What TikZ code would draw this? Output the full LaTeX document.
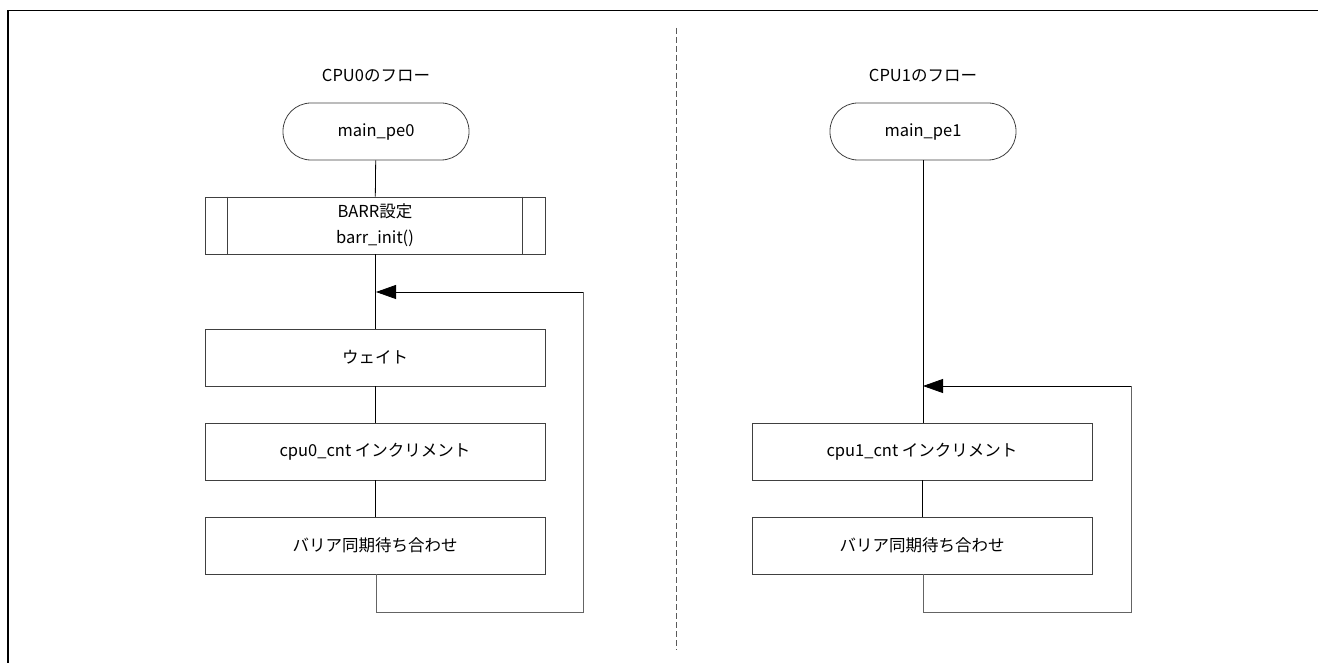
\documentclass[tikz,border=0pt]{standalone}
\usepackage{fontspec}
\setmainfont{Noto Sans CJK JP}
\usetikzlibrary{arrows.meta, positioning}
\definecolor{boxline}{RGB}{64, 64, 64}
\definecolor{loopline}{RGB}{100, 100, 100}
\definecolor{divline}{RGB}{90, 90, 90}

\begin{document}
\begin{tikzpicture}[
    x=1pt, y=-1pt,
    font=\fontsize{16.5}{26}\selectfont,
    terminal/.style={rectangle, draw=boxline, rounded corners=28pt, minimum width=186pt, minimum height=57pt, align=center, line width=0.8pt},
    procbox/.style={rectangle, draw=boxline, minimum width=340pt, minimum height=57pt, align=center, line width=0.8pt},
    flow/.style={draw=black, line width=0.8pt},
    loopflow/.style={draw=loopline, line width=1pt},
    arrow/.style={-{Triangle[length=20pt, width=14pt]}, line width=0.8pt, color=black},
    title/.style={font=\fontsize{16.5}{20}\selectfont}
]
\useasboundingbox (0,0) rectangle (1318,663);

% outer frame and divider
\draw[line width=1.8pt] (8,663) -- (8,10.5) -- (1318,10.5);
\draw[divline, dashed, dash pattern=on 6pt off 3pt, line width=0.8pt] (676,28) -- (676,650);

% CPU0 flow
\node[title] (title0) at (376,76) {CPU0のフロー};
\node[terminal] (start0) at (376,131.5) {main\_pe0};
\node[procbox, inner sep=1pt] (barr) at (375,225.5) {BARR設定\\barr\_init()};
\draw[boxline, line width=0.8pt] ([xshift=23pt]barr.north west) -- ([xshift=23pt]barr.south west);
\draw[boxline, line width=0.8pt] ([xshift=-23pt]barr.north east) -- ([xshift=-23pt]barr.south east);
\node[procbox] (wait0) at (375,357.5) {ウェイト};
\node[procbox] (inc0) at (375,451.5) {cpu0\_cnt インクリメント};
\node[procbox] (sync0) at (375,545.5) {バリア同期待ち合わせ};

\coordinate (join0) at (376,292);
\coordinate (loop0) at (583,292);
\coordinate (bot0) at (583,612);

\draw[flow] (start0) -- (barr);
\draw[flow] (barr) -- (wait0);
\draw[flow] (wait0) -- (inc0);
\draw[flow] (inc0) -- (sync0);
\draw[loopflow] (sync0.south -| join0) |- (bot0) -- (loop0);
\draw[arrow] (loop0) -- (join0);

% CPU1 flow
\node[title] (title1) at (923,76) {CPU1のフロー};
\node[terminal] (start1) at (923,131.5) {main\_pe1};
\node[procbox] (inc1) at (922,451.5) {cpu1\_cnt インクリメント};
\node[procbox] (sync1) at (922,545.5) {バリア同期待ち合わせ};

\coordinate (join1) at (923,386);
\coordinate (loop1) at (1131,386);
\coordinate (bot1) at (1131,612);

\draw[flow] (start1) -- (inc1.north -| start1);
\draw[flow] (inc1) -- (sync1);
\draw[loopflow] (sync1.south -| join1) |- (bot1) -- (loop1);
\draw[arrow] (loop1) -- (join1);

\end{tikzpicture}
\end{document}
